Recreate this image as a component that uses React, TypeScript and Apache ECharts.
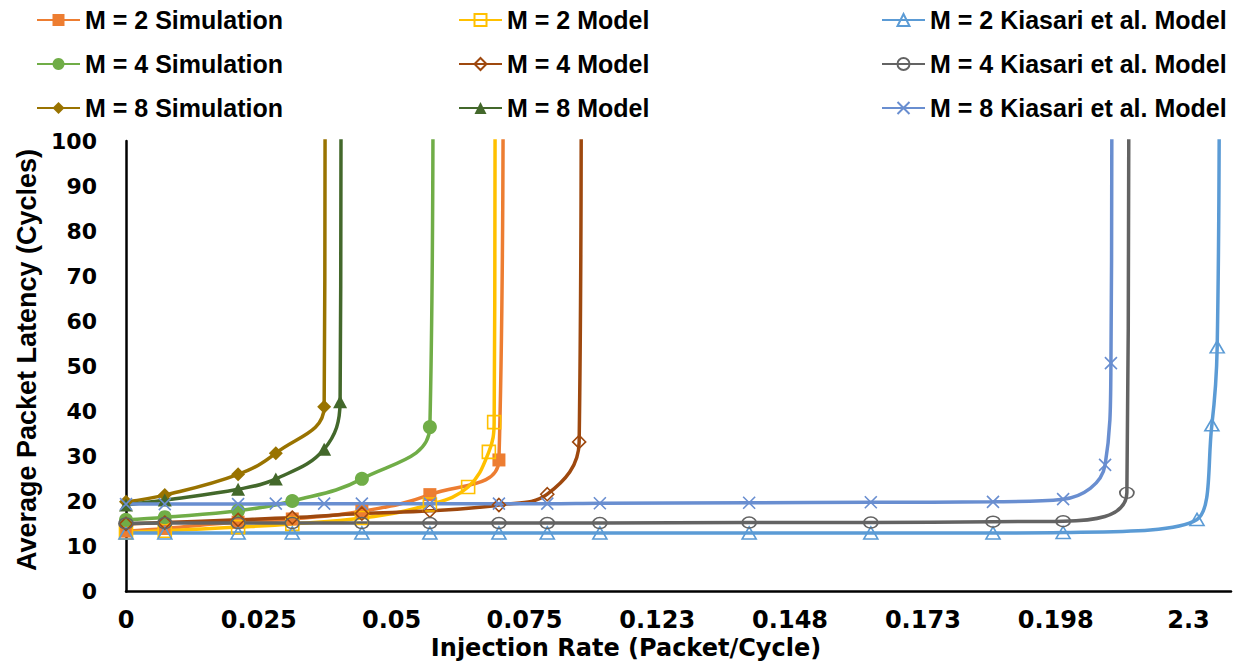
import React, { useEffect, useRef } from "react";
import * as echarts from "echarts";

const xTickLabels = ["0", "0.025", "0.05", "0.075", "0.123", "0.148", "0.173", "0.198", "2.3"];
const xStep = 0.025;

const m2Sim = [[0, 13.4], [0.0073, 14.0], [0.0211, 15.4], [0.0313, 16.1], [0.0444, 17.8], [0.0572, 21.5], [0.0702, 29.2], [0.071, 120]];
const m2Model = [[0, 13.1], [0.0073, 13.5], [0.0211, 14.3], [0.0313, 15.0], [0.0444, 16.3], [0.0572, 19.3], [0.0644, 23.2], [0.0683, 31.0], [0.0693, 37.6], [0.0695, 120]];
const m2Kiasari = [[0, 13.0], [0.0073, 13.0], [0.0211, 13.0], [0.0313, 13.0], [0.0444, 13.0], [0.0572, 13.0], [0.0702, 13.0], [0.0793, 13.0], [0.0892, 13.0], [0.1173, 13.0], [0.1402, 13.0], [0.1632, 13.0], [0.1764, 13.1], [0.2016, 16.0], [0.2044, 37.0], [0.2054, 54.3], [0.2058, 120]];
const m4Sim = [[0, 15.9], [0.0073, 16.5], [0.0211, 17.9], [0.0313, 20.1], [0.0444, 25.0], [0.0572, 36.5], [0.0578, 120]];
const m4Model = [[0, 15.0], [0.0073, 15.3], [0.0211, 15.9], [0.0313, 16.4], [0.0444, 17.3], [0.0572, 17.9], [0.0702, 19.2], [0.0793, 21.6], [0.0853, 33.2], [0.0857, 120]];
const m4Kiasari = [[0, 15.1], [0.0073, 15.2], [0.0211, 15.2], [0.0313, 15.2], [0.0444, 15.2], [0.0572, 15.2], [0.0702, 15.2], [0.0793, 15.2], [0.0892, 15.2], [0.1173, 15.3], [0.1402, 15.3], [0.1632, 15.5], [0.1764, 15.6], [0.1884, 21.9], [0.1888, 120]];
const m8Sim = [[0, 19.9], [0.0073, 21.4], [0.0211, 26.0], [0.0282, 30.7], [0.0373, 41.0], [0.0375, 120]];
const m8Model = [[0, 19.2], [0.0073, 20.3], [0.0211, 22.7], [0.0282, 25.0], [0.0373, 31.6], [0.0403, 42.1], [0.0405, 120]];
const m8Kiasari = [[0, 19.4], [0.0073, 19.4], [0.0211, 19.4], [0.0282, 19.5], [0.0373, 19.5], [0.0444, 19.5], [0.0572, 19.5], [0.0702, 19.5], [0.0793, 19.5], [0.0892, 19.6], [0.1173, 19.7], [0.1402, 19.8], [0.1632, 19.9], [0.1764, 20.5], [0.1843, 28.1], [0.1854, 50.7], [0.1856, 120]];

const ARIAL = '"Liberation Sans", Arial, sans-serif';
const WIDE = '"DejaVu Sans", Verdana, sans-serif';

const ELLIPSE = "path://M0,4A6,4 0 1,1 12,4A6,4 0 1,1 0,4Z";
const CROSS = "path://M0,0L10,10M10,0L0,10";

function mk(name: string, data: number[][], color: string, symbol: string, size: any, filled: boolean) {
  return {
    name,
    type: "line",
    data,
    smooth: 0.4,
    symbol,
    symbolSize: size,
    showSymbol: true,
    clip: true,
    lineStyle: { color, width: 3.5 },
    itemStyle: filled
      ? { color, borderColor: color, borderWidth: 0 }
      : { color: "rgba(255,255,255,0)", borderColor: color, borderWidth: 1.6 },
    emphasis: { disabled: true },
  };
}

export default function App() {
  const ref = useRef<HTMLDivElement>(null);
  useEffect(() => {
    if (!ref.current) return;
    const chart = echarts.init(ref.current, null, { renderer: "svg" });
    const legendBase = {
      orient: "vertical",
      top: 7,
      itemWidth: 43,
      itemHeight: 15,
      itemGap: 18,
      padding: 0,
      selectedMode: false,
      textStyle: { fontFamily: ARIAL, fontWeight: "bold", fontSize: 25, color: "#000", lineHeight: 26 },
    };
    chart.setOption({
      animation: false,
      backgroundColor: "#fff",
      legend: [
        { ...legendBase, left: 36, data: ["M = 2 Simulation", "M = 4 Simulation", "M = 8 Simulation"] },
        { ...legendBase, left: 458, data: ["M = 2 Model", "M = 4 Model", "M = 8 Model"] },
        { ...legendBase, left: 881, data: ["M = 2 Kiasari et al. Model", "M = 4 Kiasari et al. Model", "M = 8 Kiasari et al. Model"] },
      ],
      grid: { left: 126, right: 9, top: 141, bottom: 72.5, containLabel: false, outerBoundsMode: "none" },
      xAxis: {
        type: "value",
        min: 0,
        max: 0.208,
        interval: xStep,
        axisLine: { show: true, onZero: false, lineStyle: { color: "#000", width: 2.5 } },
        axisTick: { show: false },
        splitLine: { show: false },
        axisLabel: {
          showMaxLabel: false,
          margin: 16,
          fontFamily: WIDE,
          fontWeight: "bold",
          fontSize: 24,
          color: "#000",
          formatter: (v: number) => {
            const i = Math.round(v / xStep);
            if (Math.abs(v / xStep - i) > 1e-6) return "";
            return xTickLabels[i] ?? "";
          },
        },
      },
      yAxis: {
        type: "value",
        min: 0,
        max: 100,
        interval: 10,
        axisLine: { show: true, onZero: false, lineStyle: { color: "#000", width: 2.5 } },
        axisTick: { show: false },
        splitLine: { show: false },
        axisLabel: { margin: 29, fontFamily: WIDE, fontWeight: "bold", fontSize: 22, color: "#000" },
      },
      graphic: [
        {
          type: "text",
          x: 626,
          y: 648,
          style: {
            text: "Injection Rate (Packet/Cycle)",
            font: `bold 24px ${WIDE}`,
            fill: "#000",
            align: "center",
            verticalAlign: "middle",
            textAlign: "center",
            textVerticalAlign: "middle",
          },
        },
        {
          type: "text",
          x: 27,
          y: 360,
          rotation: Math.PI / 2,
          style: {
            text: "Average Packet Latency (Cycles)",
            font: `bold 27px ${ARIAL}`,
            fill: "#000",
            align: "center",
            verticalAlign: "middle",
            textAlign: "center",
            textVerticalAlign: "middle",
          },
        },
      ],
      series: [
        mk("M = 2 Simulation", m2Sim, "#ED7D31", "rect", 13, true),
        mk("M = 2 Model", m2Model, "#FFC000", "rect", 13, false),
        mk("M = 2 Kiasari et al. Model", m2Kiasari, "#5B9BD5", "triangle", [14, 12], false),
        mk("M = 4 Simulation", m4Sim, "#70AD47", "circle", 14, true),
        mk("M = 4 Model", m4Model, "#9E480E", "diamond", 13, false),
        mk("M = 4 Kiasari et al. Model", m4Kiasari, "#636363", ELLIPSE, [14, 11], false),
        mk("M = 8 Simulation", m8Sim, "#997300", "diamond", 14, true),
        mk("M = 8 Model", m8Model, "#43682B", "triangle", [14, 13], true),
        mk("M = 8 Kiasari et al. Model", m8Kiasari, "#698ED0", CROSS, 12, false),
      ],
    });
    return () => chart.dispose();
  }, []);
  return (
    <div
      ref={ref}
      style={{ position: "fixed", left: 0, top: 0, width: 1240, height: 664, background: "#fff" }}
    />
  );
}
